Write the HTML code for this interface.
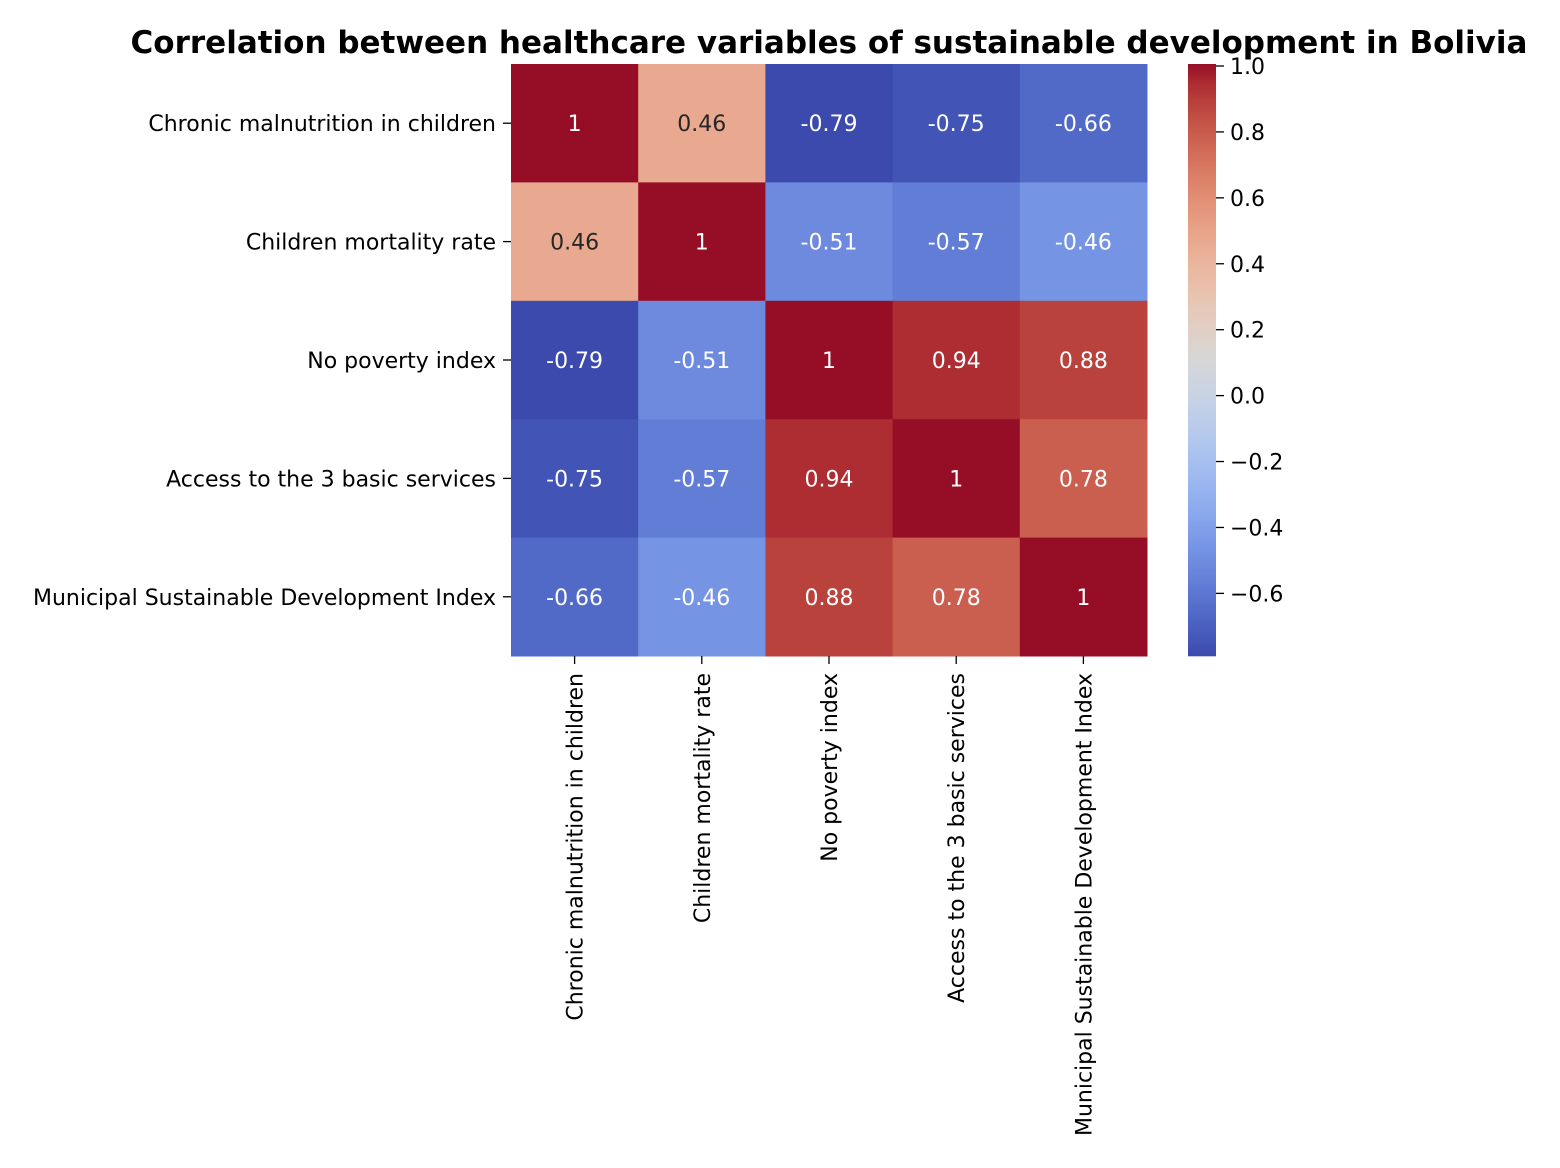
<!DOCTYPE html>
<html><head><meta charset="utf-8"><style>
body{margin:0;background:#fff;}
svg{display:block;font-family:"DejaVu Sans","Liberation Sans",sans-serif;}
.muted{filter:saturate(0.88) brightness(0.97);}
</style></head><body>
<svg id="chart" width="1560" height="1168"></svg>
<script>
const labels=["Chronic malnutrition in children","Children mortality rate","No poverty index","Access to the 3 basic services","Municipal Sustainable Development Index"];
const row0=[1,0.46,-0.79,-0.75,-0.66];
const row1=[0.46,1,-0.51,-0.57,-0.46];
const row2=[-0.79,-0.51,1,0.94,0.88];
const row3=[-0.75,-0.57,0.94,1,0.78];
const row4=[-0.66,-0.46,0.88,0.78,1];
const matrix=[row0,row1,row2,row3,row4];
const cbTicks=[1.0,0.8,0.6,0.4,0.2,0.0,-0.2,-0.4,-0.6];
const vmin=-0.79, vmax=1.0;

const cw=[[59,76,192],[68,90,204],[77,104,215],[87,117,225],[98,130,234],[108,142,241],[119,154,247],[130,165,251],[141,176,254],[152,185,255],[163,194,255],[174,201,253],[184,208,249],[194,213,244],[204,217,238],[213,219,230],[221,221,221],[229,216,209],[236,211,197],[241,204,184],[245,196,172],[247,187,160],[247,177,148],[247,166,135],[244,154,123],[241,141,111],[236,127,99],[229,112,88],[222,96,77],[213,80,66],[203,62,56],[192,40,47],[170,10,38]];
function cmap(v){let t=(v-vmin)/(vmax-vmin);t=Math.max(0,Math.min(1,t));const p=t*(cw.length-1);const i=Math.min(cw.length-2,Math.floor(p));const f=p-i;return cw[i].map((a,k)=>Math.round(a+(cw[i+1][k]-a)*f));}
function lum(c){const l=c.map(x=>{x/=255;return x<=0.03928?x/12.92:Math.pow((x+0.055)/1.055,2.4)});return 0.2126*l[0]+0.7152*l[1]+0.0722*l[2];}
const NS="http://www.w3.org/2000/svg";
const svg=document.getElementById('chart');
function mk(tag,attrs,parent){const e=document.createElementNS(NS,tag);for(const k in attrs)e.setAttribute(k,attrs[k]);(parent||svg).appendChild(e);return e;}
const X0=511,Y0=64,W=636,H=592,n=labels.length,cwid=W/n,chgt=H/n;
const xPos=i=>X0+i*cwid, yPos=j=>Y0+j*chgt;
const fmt=v=>(Math.round(v*100)/100).toString();

const title=mk('text',{x:829,y:53,'text-anchor':'middle','font-size':31,'font-weight':'bold',fill:'#000'});
title.textContent="Correlation between healthcare variables of sustainable development in Bolivia";



const cells=mk('g',{class:'muted'});


const annots=[];
matrix.forEach((row,j)=>row.forEach((v,i)=>{
  const c=cmap(v);
  const r=mk('rect',{x:xPos(i),y:yPos(j),width:cwid+0.5,height:chgt+0.5,fill:`rgb(${c})`},cells);
  
  
  annots.push([v,i,j,c]);
}));
annots.forEach(([v,i,j,c])=>{
  const t=mk('text',{x:xPos(i)+cwid/2,y:yPos(j)+chgt/2+8,'text-anchor':'middle','font-size':22,fill:lum(c)>0.408?'#262626':'#fff'});
  t.textContent=fmt(v);
  
  
});

labels.forEach((lab,j)=>{
  const y=yPos(j)+chgt/2;
  mk('line',{x1:X0-8,x2:X0,y1:y,y2:y,stroke:'#000','stroke-width':1.3});
  const t=mk('text',{x:X0-15,y:y+8,'text-anchor':'end','font-size':22,fill:'#000'});
  t.textContent=lab;
  
  
});
labels.forEach((lab,i)=>{
  const x=xPos(i)+cwid/2;
  mk('line',{x1:x,x2:x,y1:Y0+H,y2:Y0+H+8,stroke:'#000','stroke-width':1.3});
  const t=mk('text',{x:0,y:0,'text-anchor':'end','font-size':22,fill:'#000',transform:`translate(${x+8},${Y0+H+17}) rotate(-90)`});
  t.textContent=lab;
  
  
});

const CX=1188,CW=28,CY=64,CH=592;
const cbY=v=>CY+2+(vmax-v)/(vmax-vmin)*(CH-2);
const g=mk('g',{class:'muted'});


for(let k=0;k<CH;k++){const v=vmax-(k+0.5)/CH*(vmax-vmin);const c=cmap(v);mk('rect',{x:CX,y:CY+k,width:CW,height:1.3,fill:`rgb(${c})`},g);}
cbTicks.forEach(v=>{
  const y=cbY(v);
  mk('line',{x1:CX+CW,x2:CX+CW+8,y1:y,y2:y,stroke:'#000','stroke-width':1.3});
  const t=mk('text',{x:CX+CW+14,y:y+8,'font-size':22,fill:'#000'});
  t.textContent=v.toFixed(1).replace('-','\u2212');
  
  
});
</script>
</body></html>
